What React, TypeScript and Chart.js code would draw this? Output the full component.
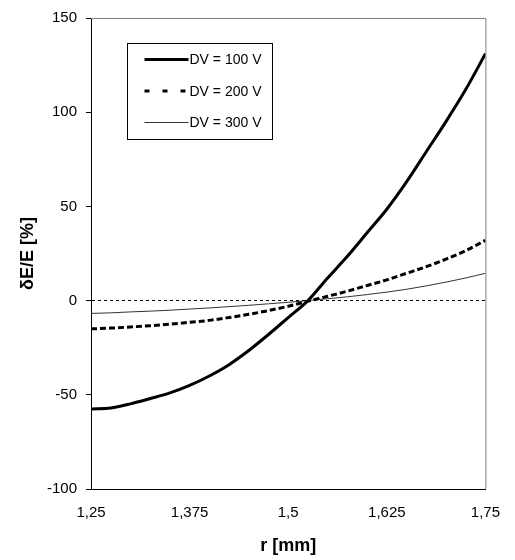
import React, { useEffect, useRef } from "react";
import { Chart, registerables } from "chart.js";

Chart.register(...registerables);

const rValues = [1.25, 1.275, 1.3, 1.325, 1.35, 1.375, 1.4, 1.425, 1.45, 1.475, 1.5, 1.525, 1.55, 1.575, 1.6, 1.625, 1.65, 1.675, 1.7, 1.725, 1.75];
const dv100 = [-57.5, -57, -54.8, -52, -49, -45, -40, -34, -26.5, -18, -9, 0, 12, 23.5, 36, 48.5, 63, 79, 95, 112, 131];
const dv200 = [-15, -14.6, -14, -13.3, -12.5, -11.5, -10.5, -9, -7.3, -5.3, -3, -0.3, 2.3, 5, 8, 11, 14.5, 18, 22, 26.5, 32];
const dv300 = [-6.8, -6.5, -6, -5.6, -5.1, -4.5, -3.9, -3.2, -2.5, -1.7, -0.9, 0, 1, 2, 3.2, 4.5, 6, 7.8, 9.8, 12, 14.5];
const seriesLabels = ["DV = 100 V", "DV = 200 V", "DV = 300 V"];
const xTickLabels = ["1,25", "1,375", "1,5", "1,625", "1,75"];
const yTickLabels = ["-100", "-50", "0", "50", "100", "150"];

const FONT = "'Liberation Sans', Arial, sans-serif";

const frameAndLegend = {
  id: "frameAndLegend",
  beforeDatasetsDraw(chart: any) {
    const { ctx, chartArea: a } = chart;
    ctx.save();
    ctx.strokeStyle = "#808080";
    ctx.lineWidth = 1;
    ctx.beginPath();
    ctx.moveTo(a.left, a.top + 0.5);
    ctx.lineTo(a.right + 0.5, a.top + 0.5);
    ctx.lineTo(a.right + 0.5, a.bottom);
    ctx.stroke();
    ctx.restore();
  },
  afterDatasetsDraw(chart: any) {
    const { ctx, chartArea: a } = chart;
    const bx = Math.round(a.left) + 36.5;
    const by = Math.round(a.top) + 25.5;
    const bw = 145;
    const bh = 96;
    ctx.save();
    ctx.fillStyle = "#ffffff";
    ctx.fillRect(bx, by, bw, bh);
    ctx.strokeStyle = "#000";
    ctx.lineWidth = 1;
    ctx.strokeRect(bx, by, bw, bh);
    const rows = [16, 47.5, 79];
    chart.data.datasets.forEach((ds: any, i: number) => {
      const y = by + rows[i];
      ctx.beginPath();
      ctx.strokeStyle = ds.borderColor;
      ctx.lineWidth = ds.borderWidth;
      ctx.setLineDash(i === 1 ? [5, 13] : []);
      ctx.moveTo(bx + 17, y);
      ctx.lineTo(bx + 61, y);
      ctx.stroke();
      ctx.setLineDash([]);
      ctx.fillStyle = "#000";
      ctx.font = "14px " + FONT;
      ctx.textBaseline = "middle";
      ctx.textAlign = "left";
      ctx.fillText(ds.label, bx + 62, y + 1);
    });
    ctx.restore();
  },
};

export default function App() {
  const ref = useRef<HTMLCanvasElement | null>(null);
  useEffect(() => {
    document.body.style.margin = "0";
    const toPts = (ys: number[]) => ys.map((y, i) => ({ x: rValues[i], y }));
    const chart = new Chart(ref.current as HTMLCanvasElement, {
      type: "line",
      data: {
        datasets: [
          { label: seriesLabels[0], data: toPts(dv100), borderColor: "#000", borderWidth: 3, pointRadius: 0, cubicInterpolationMode: "monotone" },
          { label: seriesLabels[1], data: toPts(dv200), borderColor: "#000", borderWidth: 3, borderDash: [6, 3], pointRadius: 0, cubicInterpolationMode: "monotone" },
          { label: seriesLabels[2], data: toPts(dv300), borderColor: "#333", borderWidth: 1, pointRadius: 0, cubicInterpolationMode: "monotone" },
        ],
      },
      options: {
        responsive: false,
        animation: false,
        layout: { padding: { left: 0, top: 11, right: 27, bottom: 0 } },
        plugins: { legend: { display: false }, tooltip: { enabled: false } },
        scales: {
          x: {
            type: "linear",
            min: 1.25,
            max: 1.75,
            afterFit: (s: any) => { s.height = 71; },
            ticks: {
              stepSize: 0.125,
              padding: 15,
              color: "#000",
              font: { family: FONT, size: 15 },
              maxRotation: 0,
              callback: (_v: any, i: number) => xTickLabels[i],
            },
            grid: { display: false, drawTicks: false },
            border: { display: true, color: "#000", width: 1 },
            title: { display: true, text: "r [mm]", color: "#000", font: { family: FONT, size: 18, weight: "bold" }, padding: { top: 0, bottom: 3 } },
          },
          y: {
            type: "linear",
            min: -100,
            max: 150,
            afterFit: (s: any) => { s.width = 91; },
            ticks: {
              stepSize: 50,
              padding: 9,
              color: "#000",
              font: { family: FONT, size: 15 },
              callback: (_v: any, i: number) => yTickLabels[i],
            },
            grid: {
              drawOnChartArea: true,
              drawTicks: true,
              tickLength: 5,
              tickColor: "#000",
              color: (c: any) => (c.tick && c.tick.value === 0 ? "#000" : "rgba(0,0,0,0)"),
              lineWidth: 1,
            },
            border: { display: true, color: "#000", width: 1, dash: [3, 3] },
            title: { display: true, text: "δE/E [%]", color: "#000", font: { family: FONT, size: 18, weight: "bold" }, padding: { top: 17, bottom: 0 } },
          },
        },
      },
      plugins: [frameAndLegend],
    });
    return () => chart.destroy();
  }, []);
  return (
    <div style={{ width: 515, height: 560, background: "#fff" }}>
      <canvas ref={ref} width={515} height={560} style={{ display: "block" }} />
    </div>
  );
}
